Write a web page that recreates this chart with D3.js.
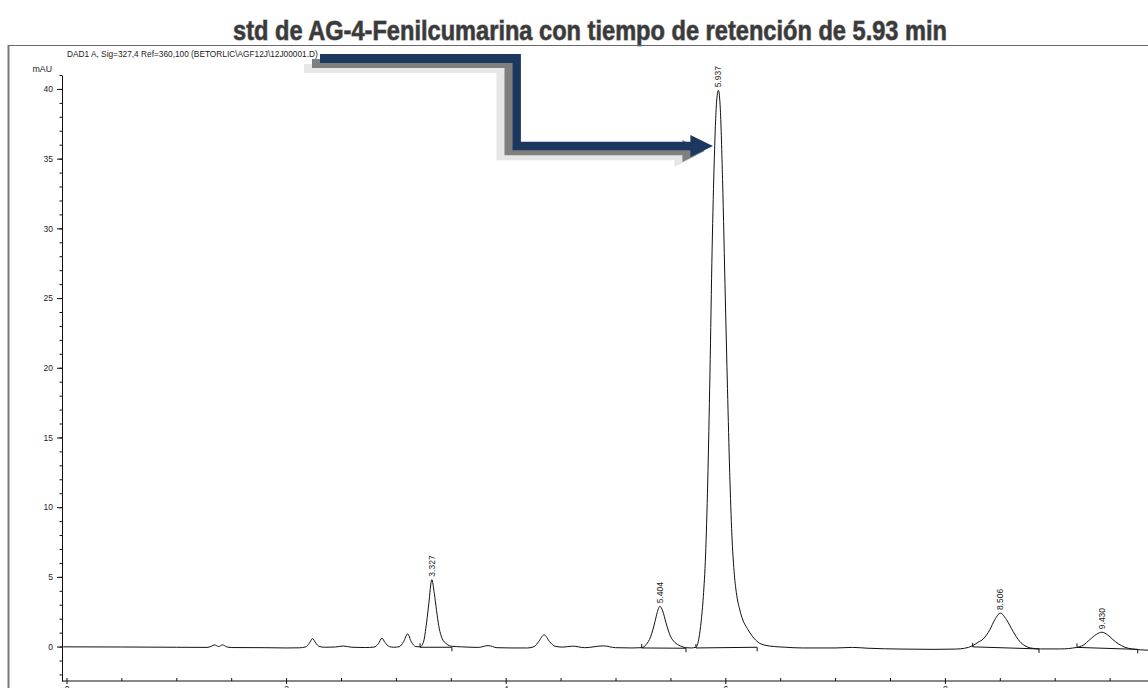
<!DOCTYPE html>
<html>
<head>
<meta charset="utf-8">
<script src="https://cdn.jsdelivr.net/npm/d3@7"></script>
<style>
  body { margin: 0; background: #fff; }
  svg { display: block; }
</style>
</head>
<body>
<svg id="chart" width="1148" height="688"></svg>
<script>
// ---- Chromatogram trace (retention time in min, absorbance in mAU) ----
const traceTime = [
  -0.03, 0.5, 1.0, 1.28, 1.32, 1.35, 1.385, 1.42, 1.46, 1.50, 1.8, 2.0, 2.12, 2.18, 2.21, 2.242, 2.27, 2.30, 2.35,
  2.45, 2.52, 2.60, 2.72, 2.80, 2.84, 2.873, 2.90, 2.94, 2.98, 3.03, 3.07, 3.107, 3.14, 3.18, 3.22, 3.25, 3.28,
  3.30, 3.327, 3.35, 3.37, 3.39, 3.42, 3.46, 3.51, 3.60, 3.75, 3.84, 3.92, 4.05, 4.20, 4.26, 4.30, 4.35, 4.40,
  4.45, 4.52, 4.61, 4.72, 4.89, 5.00, 5.15, 5.24, 5.28, 5.32, 5.36, 5.38, 5.404, 5.43, 5.46, 5.50, 5.54, 5.59,
  5.64, 5.69, 5.733, 5.76, 5.78, 5.80, 5.82, 5.84, 5.86, 5.88, 5.90, 5.92, 5.937, 5.955, 5.975, 6.00, 6.02, 6.04,
  6.06, 6.08, 6.10, 6.13, 6.16, 6.20, 6.25, 6.30, 6.36, 6.45, 6.55, 6.70, 7.00, 7.16, 7.30, 7.60, 7.90, 8.10,
  8.18, 8.25, 8.30, 8.35, 8.41, 8.455, 8.506, 8.56, 8.62, 8.68, 8.73, 8.78, 8.87, 9.05, 9.20, 9.26, 9.32, 9.38,
  9.430, 9.48, 9.53, 9.58, 9.64, 9.71, 9.85
];
const traceSignal = [
  -0.02, -0.03, -0.05, -0.06, 0.02, 0.12, 0.0, 0.12, -0.02, -0.07, -0.08, -0.1, -0.09, -0.02, 0.22, 0.57, 0.25, 0.02, -0.05,
  -0.03, 0.04, -0.05, -0.07, -0.04, 0.2, 0.6, 0.3, 0.0, -0.05, -0.01, 0.35, 0.91, 0.35, 0.0, -0.02, 0.3, 1.75,
  3.1, 4.8, 3.8, 2.6, 1.5, 0.6, 0.2, 0.02, -0.02, -0.06, 0.07, -0.08, -0.1, -0.1, 0.0, 0.35, 0.84, 0.35,
  0.02, -0.04, 0.03, -0.08, 0.05, -0.08, -0.1, -0.08, 0.15, 0.7, 1.8, 2.45, 2.89, 2.55, 1.7, 0.75, 0.3, 0.05,
  -0.08, -0.1, -0.04, 0.6, 1.8, 3.6, 6.5, 11.8, 19.5, 28.5, 35.0, 39.0, 39.9, 38.5, 33.5, 25.0, 18.5, 12.5,
  8.0, 5.4, 3.9, 2.7, 1.9, 1.3, 0.7, 0.3, 0.1, 0.0, -0.05, -0.1, -0.1, -0.06, -0.12, -0.18, -0.2, -0.18,
  -0.12, 0.05, 0.3, 0.55, 1.22, 1.94, 2.4, 1.94, 1.1, 0.38, 0.05, -0.1, -0.17, -0.17, -0.06, 0.1, 0.5, 0.88,
  1.03, 0.85, 0.5, 0.2, -0.05, -0.18, -0.26
];

// ---- Integrated peaks ----
const peakTimes   = [3.327, 5.404, 5.937, 8.506, 9.430];
const peakHeights = [4.8, 2.89, 39.9, 2.4, 1.03];
const peakLabels  = ["3.327", "5.404", "5.937", "8.506", "9.430"];

// Integration baselines drawn under each peak
const baseStartTime   = [3.22, 5.239, 5.733, 8.253, 9.203];
const baseStartSignal = [-0.05, -0.1, -0.1, -0.02, -0.06];
const baseEndTime     = [3.51, 5.642, 6.29, 8.857, 9.756];
const baseEndSignal   = [-0.05, -0.12, -0.05, -0.17, -0.2];

// ---- Axis ticks ----
const xTickValues = [0, 2, 4, 6, 8, 10];
const yTickValues = [0, 5, 10, 15, 20, 25, 30, 35, 40];

const titleText  = "std de AG-4-Fenilcumarina con tiempo de retención de 5.93 min";
const headerText = "DAD1 A, Sig=327,4 Ref=360,100 (BETORLIC\\AGF12J\\12J00001.D)";
const yUnit = "mAU";

// ---- Drawing ----
const svg = d3.select("#chart");
const W = 1148, H = 688;
const smallFont = "'Liberation Sans', Arial, sans-serif";

svg.append("rect").attr("width", W).attr("height", H).attr("fill", "#fff");

const x = d3.scaleLinear().domain([0, 10]).range([66.5, 1164.5]);
const y = d3.scaleLinear().domain([-2.47, 41]).range([681, 75]);

// Title
svg.append("text")
  .attr("x", 590).attr("y", 40)
  .attr("text-anchor", "middle")
  .attr("font-family", "'Liberation Sans Narrow', 'Liberation Sans', Arial, sans-serif")
  .attr("font-weight", "bold")
  .attr("font-size", 27)
  .attr("textLength", 714)
  .attr("lengthAdjust", "spacingAndGlyphs")
  .attr("fill", "#3a3a3a")
  .attr("stroke", "#8c8c8c")
  .attr("stroke-width", 1)
  .attr("paint-order", "stroke")
  .text(titleText);

// Plot frame (left and top border)
svg.append("line").attr("x1", 8.5).attr("x2", 8.5).attr("y1", 45).attr("y2", H)
  .attr("stroke", "#7a7a7a").attr("stroke-width", 2);
svg.append("line").attr("x1", 8).attr("x2", W).attr("y1", 45.5).attr("y2", 45.5)
  .attr("stroke", "#6a6a6a").attr("stroke-width", 1.2);

// Signal header
svg.append("text")
  .attr("x", 67).attr("y", 57)
  .attr("font-family", smallFont).attr("font-size", 8.3)
  .attr("fill", "#222")
  .text(headerText);

// Y axis
const yAxis = svg.append("g").attr("transform", "translate(62,0)");
yAxis.call(d3.axisLeft(y).tickValues(yTickValues).tickSize(5).tickSizeOuter(0).tickPadding(4));
yAxis.append("g").call(d3.axisLeft(y).tickValues(d3.range(-2, 42)).tickSize(2.5).tickFormat(""))
  .select(".domain").remove();
yAxis.selectAll("text").attr("font-family", smallFont).attr("font-size", 8.5).attr("fill", "#222");
yAxis.selectAll("line, path").attr("stroke", "#111");

svg.append("text")
  .attr("x", 52).attr("y", 71.5)
  .attr("text-anchor", "end")
  .attr("font-family", smallFont).attr("font-size", 8.8).attr("fill", "#222")
  .text(yUnit);

// X axis (tick labels sit at the lower page edge)
const xAxis = svg.append("g").attr("transform", "translate(0,681)");
xAxis.call(d3.axisBottom(x).tickValues(xTickValues).tickSize(3).tickSizeOuter(0).tickPadding(2));
xAxis.select(".domain").remove();
xAxis.append("g").call(d3.axisTop(x).tickValues(d3.range(0, 10, 0.5)).tickSize(3).tickFormat(""))
  .select(".domain").remove();
xAxis.append("line").attr("x1", 62).attr("x2", W).attr("y1", 0).attr("y2", 0);
xAxis.selectAll("text").attr("font-family", smallFont).attr("font-size", 8.5).attr("fill", "#222");
xAxis.selectAll("line").attr("stroke", "#111");

// Chromatogram trace
const tracePoints = traceTime.map((t, i) => [t, traceSignal[i]]);
const line = d3.line()
  .x(d => x(d[0]))
  .y(d => y(d[1]))
  .curve(d3.curveMonotoneX);

svg.append("path")
  .datum(tracePoints)
  .attr("d", line)
  .attr("fill", "none")
  .attr("stroke", "#111")
  .attr("stroke-width", 1);

// Integration baselines with start/end marks
const bases = baseStartTime.map((t, i) => ({
  t0: t, v0: baseStartSignal[i], t1: baseEndTime[i], v1: baseEndSignal[i]
}));
const baseG = svg.append("g").attr("stroke", "#111").attr("stroke-width", 1);
baseG.selectAll("line.base").data(bases).join("line")
  .attr("class", "base")
  .attr("x1", d => x(d.t0)).attr("y1", d => y(d.v0))
  .attr("x2", d => x(d.t1)).attr("y2", d => y(d.v1));
baseG.selectAll("line.start").data(bases).join("line")
  .attr("class", "start")
  .attr("x1", d => x(d.t0)).attr("x2", d => x(d.t0))
  .attr("y1", d => y(d.v0)).attr("y2", d => y(d.v0) - 4);
baseG.selectAll("line.end").data(bases).join("line")
  .attr("class", "end")
  .attr("x1", d => x(d.t1)).attr("x2", d => x(d.t1))
  .attr("y1", d => y(d.v1)).attr("y2", d => y(d.v1) + 4);

// Retention-time labels above each integrated peak
svg.selectAll("text.peak").data(peakTimes).join("text")
  .attr("class", "peak")
  .attr("transform", (t, i) => `translate(${x(t) + 3},${y(peakHeights[i]) - 3}) rotate(-90)`)
  .attr("font-family", smallFont).attr("font-size", 8.5).attr("fill", "#222")
  .text((t, i) => peakLabels[i]);

// Stepped arrow pointing at the main peak, with two offset shadows
const tipX = x(peakTimes[2]) - 5.5;
const tipY = 146;
function arrowPath(dx, dy) {
  const sx = 320 + dx, topY = 58.5 + dy, cx = 516.7 + dx, lowY = tipY + dy, hx = tipX - 22.5 + dx;
  return `M${sx},${topY - 4.5} H${cx + 4.2} V${lowY - 4.2} H${hx} V${lowY - 11} L${tipX + dx},${lowY} ` +
         `L${hx},${lowY + 11} V${lowY + 4.2} H${cx - 4.2} V${topY + 4.5} H${sx} Z`;
}
const arrowLayers = [
  { dx: -16, dy: 10, fill: "#e6e6e6" },
  { dx: -8, dy: 5, fill: "#7f7f7f" },
  { dx: 0, dy: 0, fill: "#1c385e" }
];
svg.selectAll("path.arrow").data(arrowLayers).join("path")
  .attr("class", "arrow")
  .attr("d", d => arrowPath(d.dx, d.dy))
  .attr("fill", d => d.fill);
</script>
</body>
</html>
